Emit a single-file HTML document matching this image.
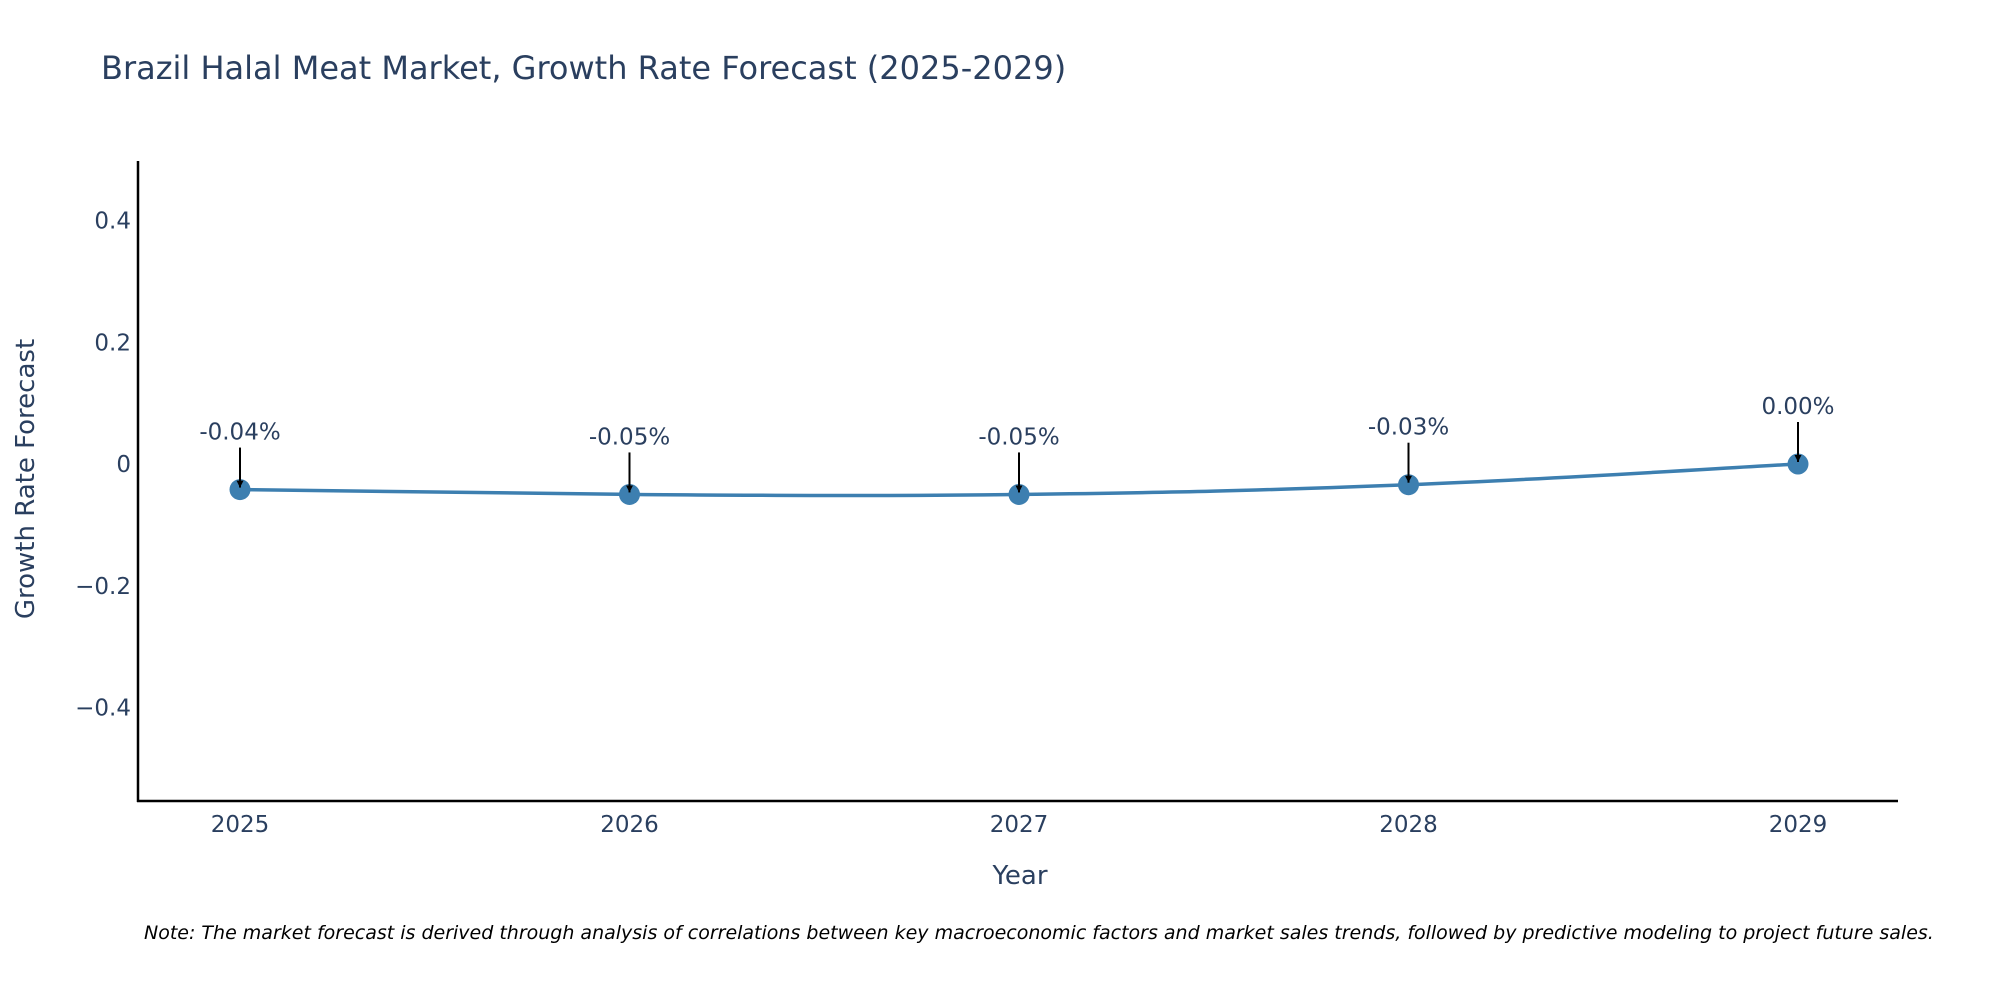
<!DOCTYPE html>
<html><head><meta charset="utf-8"><style>
body{margin:0;background:#fff}
svg{display:block;font-family:"DejaVu Sans","Liberation Sans",sans-serif}
</style></head><body>
<svg width="2000" height="1000" viewBox="0 0 2000 1000">
<rect width="2000" height="1000" fill="#fff"/>
<text x="101" y="79" font-size="32" fill="#2a3f5f">Brazil Halal Meat Market, Growth Rate Forecast (2025-2029)</text>
<g id="yticks"></g><g id="xticks"></g>
<line x1="138" y1="161" x2="138" y2="802" stroke="#000" stroke-width="2.5"/>
<line x1="137" y1="801" x2="1898" y2="801" stroke="#000" stroke-width="2.5"/>
<path id="line" fill="none" stroke="#3d7fb0" stroke-width="3.5"/>
<g id="marks"></g><g id="ann"></g>
<text x="1020" y="884" font-size="26" fill="#2a3f5f" text-anchor="middle">Year</text>
<text transform="translate(34,479) rotate(-90)" font-size="26" fill="#2a3f5f" text-anchor="middle">Growth Rate Forecast</text>
<text x="144" y="939" font-size="19" font-style="italic" fill="#000">Note: The market forecast is derived through analysis of correlations between key macroeconomic factors and market sales trends, followed by predictive modeling to project future sales.</text>
<defs><marker id="ah" viewBox="0 0 10 10" refX="10" refY="5" markerWidth="7" markerHeight="7" markerUnits="userSpaceOnUse" orient="auto"><path d="M0,0L10,5L0,10Z" fill="#000"/></marker></defs>
</svg>
<script>
const years=[2025,2026,2027,2028,2029];
const values=[-0.042,-0.05,-0.05,-0.034,0.0];
const yTicks=[0.4,0.2,0,-0.2,-0.4];
const yTickLabels=["0.4","0.2","0","\u22120.2","\u22120.4"];
const NS="http://www.w3.org/2000/svg";
const xS=v=>240+(v-2025)*(1798-240)/4;
const yS=v=>464-v*608.75;
function mk(t,a,p){const e=document.createElementNS(NS,t);for(const k in a)e.setAttribute(k,a[k]);p.appendChild(e);return e;}
const yt=document.getElementById('yticks');
yTicks.forEach((v,i)=>{const t=mk('text',{x:131,y:yS(v)+8,'font-size':23,fill:'#2a3f5f','text-anchor':'end'},yt);t.textContent=yTickLabels[i];

});
const xt=document.getElementById('xticks');
years.forEach(v=>{const t=mk('text',{x:xS(v),y:832,'font-size':23,fill:'#2a3f5f','text-anchor':'middle'},xt);t.textContent=v;

});
const pts=years.map((y,i)=>[xS(y),yS(values[i])]);
let d='M'+pts[0][0]+','+pts[0][1];
for(let i=0;i<pts.length-1;i++){const p0=pts[Math.max(0,i-1)],p1=pts[i],p2=pts[i+1],p3=pts[Math.min(pts.length-1,i+2)];const s=0.2;
d+=` C${p1[0]+(p2[0]-p0[0])*s},${p1[1]+(p2[1]-p0[1])*s} ${p2[0]-(p3[0]-p1[0])*s},${p2[1]-(p3[1]-p1[1])*s} ${p2[0]},${p2[1]}`;}
document.getElementById('line').setAttribute('d',d);
const mg=document.getElementById('marks'),ag=document.getElementById('ann');
pts.forEach((p,i)=>{const c=mk('circle',{cx:p[0],cy:p[1],r:10.5,fill:'#3d7fb0'},mg);


const l=mk('line',{x1:p[0],y1:p[1]-42,x2:p[0],y2:p[1]-2,stroke:'#000','stroke-width':2,'marker-end':'url(#ah)'},ag);


const t=mk('text',{x:p[0],y:p[1]-50,'font-size':23,fill:'#2a3f5f','text-anchor':'middle'},ag);t.textContent=values[i].toFixed(2)+'%';

});
</script>
</body></html>
